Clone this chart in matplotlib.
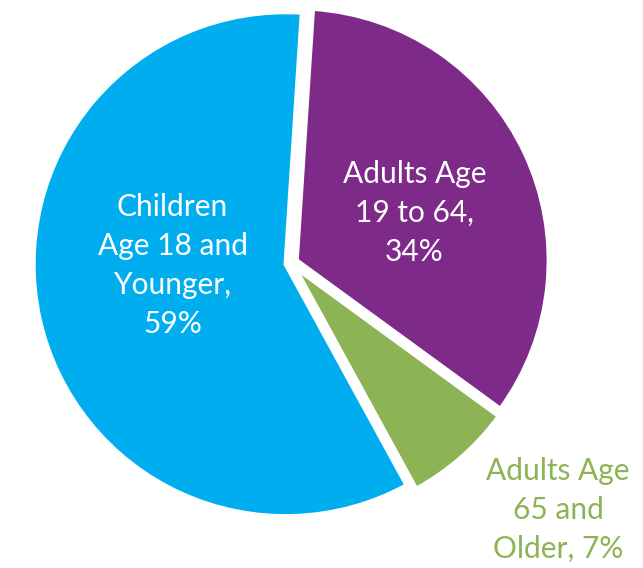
import numpy as np
import matplotlib.pyplot as plt

labels = ["Adults Age\n19 to 64,\n34%", "Adults Age\n65 and\nOlder, 7%", "Children\nAge 18 and\nYounger,\n59%"]
shares = [34, 7, 59]
colors = ["#7D2A89", "#8CB354", "#00AEEF"]
label_colors = ["white", "#8CB354", "white"]
# label anchor points in axes-data units (center of pie at 0, 0)
label_pos = [(0.49, 0.20), (1.06, -0.98), (-0.47, -0.01)]

W, H = 643, 568
cx, cy, r = 291, 263, 252

fig = plt.figure(figsize=(W / 100, H / 100), dpi=100)
ax = fig.add_axes([0, 0, 1, 1])
wedges, _ = ax.pie(
    shares,
    colors=colors,
    startangle=86.3,
    counterclock=False,
    explode=[0.025, 0.025, 0.022],
    wedgeprops={"edgecolor": "white", "linewidth": 3},
)
ax.set_xlim(-cx / r, (W - cx) / r)
ax.set_ylim(-(H - cy) / r, cy / r)
ax.set_aspect("equal")
ax.axis("off")

for text, (x, y), c in zip(labels, label_pos, label_colors):
    ax.text(x, y, text, color=c, ha="center", va="center", fontsize=21.5,
            family="Lato", linespacing=1.48)

fig.savefig("out.png", dpi=100)
